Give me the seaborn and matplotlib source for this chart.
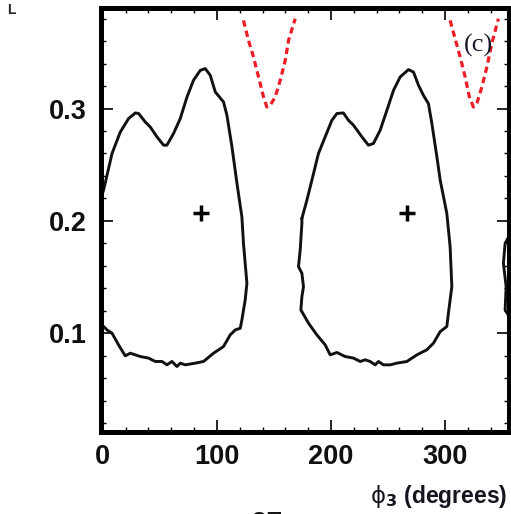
import numpy as np
import pandas as pd
import matplotlib
matplotlib.use("Agg")
import matplotlib.pyplot as plt
from matplotlib.ticker import MultipleLocator
import seaborn as sns

# ---- data ----
c1_phi = [-2.2, 0.7, 8.1, 15.3, 22.6, 28.5, 31.4, 37.2, 41.6, 47.5, 53.3, 56.2, 62.0, 67.9, 73.8,
          79.5, 85.4, 89.8, 94.2, 98.6, 105.8, 108.8, 113.2, 117.6, 121.9, 123.3, 126.3, 124.8,
          121.9, 120.5, 116.1, 111.7, 105.8, 97.1, 88.3, 81.0, 72.3, 67.9, 65.0, 60.6, 56.2, 51.9,
          46.0, 40.1, 32.9, 24.1, 19.7, 13.8, 8.1, 3.7, -0.7, -3.1]
c1_r = [0.2185, 0.2274, 0.260, 0.279, 0.2911, 0.2961, 0.2956, 0.2881, 0.2836, 0.2748, 0.2674,
        0.2674, 0.2778, 0.2911, 0.3103, 0.3252, 0.3340, 0.3356, 0.3296, 0.3148, 0.3059, 0.2940,
        0.2659, 0.2333, 0.2036, 0.1800, 0.1444, 0.1296, 0.1118, 0.1044, 0.1029, 0.0985, 0.0881,
        0.0822, 0.0748, 0.0733, 0.0718, 0.0733, 0.0703, 0.0748, 0.0718, 0.0748, 0.0748, 0.0778,
        0.0792, 0.0822, 0.0798, 0.0896, 0.1000, 0.1029, 0.1074, 0.1100]

c2_phi = [174.5, 178.9, 184.7, 189.0, 194.9, 200.8, 205.2, 210.9, 215.3, 219.7, 227.1, 232.8,
          237.2, 243.1, 249.0, 254.8, 260.6, 267.9, 272.3, 276.7, 281.0, 285.4, 288.4, 292.8,
          295.7, 301.5, 304.4, 305.9, 302.9, 301.5, 295.7, 289.8, 284.0, 275.3, 266.5, 257.7,
          251.9, 246.0, 241.6, 238.7, 234.3, 230.0, 225.6, 219.7, 212.4, 205.2, 199.3, 194.9,
          187.6, 180.3, 173.6, 174.5, 175.9, 174.5, 171.5, 173.0, 174.5, 174.5]
c2_r = [0.2022, 0.2185, 0.2422, 0.2600, 0.2748, 0.2896, 0.2956, 0.2961, 0.2896, 0.2852, 0.2748,
        0.2674, 0.2689, 0.2807, 0.2985, 0.3163, 0.3281, 0.3347, 0.3325, 0.3207, 0.3118, 0.3044,
        0.2867, 0.2570, 0.2363, 0.2067, 0.1770, 0.1414, 0.1178, 0.1059, 0.1014, 0.0911, 0.0852,
        0.0807, 0.0748, 0.0733, 0.0718, 0.0718, 0.0748, 0.0718, 0.0748, 0.0763, 0.0748, 0.0778,
        0.0792, 0.0828, 0.0807, 0.0896, 0.0985, 0.1089, 0.1207, 0.1325, 0.1414, 0.1533, 0.1592,
        0.1740, 0.1978, 0.2022]

c3_phi = [358.0, 352.6, 351.1, 353.5, 352.6, 358.0]
c3_r = [0.190, 0.180, 0.1622, 0.1415, 0.1207, 0.112]

v1_phi = [123.3, 127.7, 132.1, 136.5, 140.9, 143.8, 146.7, 151.1, 155.5, 159.9, 162.8, 168.6]
v1_r = [0.3785, 0.3607, 0.3459, 0.3281, 0.3103, 0.3014, 0.3029, 0.3103, 0.3252, 0.3429, 0.3607, 0.3800]
v2_phi = [304.4, 308.8, 313.2, 317.6, 321.3, 324.8, 327.8, 332.2, 336.6, 340.9, 346.7]
v2_r = [0.3785, 0.3622, 0.3459, 0.3281, 0.3103, 0.3014, 0.3044, 0.3192, 0.3370, 0.3578, 0.3800]

best_phi = [86.3, 266.5]
best_r = [0.2067, 0.2067]

x_ticks = [0, 100, 200, 300]
y_ticks = [0.1, 0.2, 0.3]

# ---- figure ----
sns.set_theme(style="ticks")
plt.rcParams['font.family'] = ['Liberation Sans', 'DejaVu Sans']

W, H = 511, 514
fig = plt.figure(figsize=(W / 100, H / 100), dpi=100)
L, R, T, B = 100.5, 509.0, 7.5, 432.0
ax = fig.add_axes([L / W, 1 - B / H, (R - L) / W, (B - T) / H])

black = "#111111"
red = "#ee1c24"

def line(phi, r, **kw):
    df = pd.DataFrame({"phi": phi, "r": r})
    sns.lineplot(data=df, x="phi", y="r", sort=False, estimator=None, ax=ax, **kw)

for p, r in [(c1_phi, c1_r), (c2_phi, c2_r), (c3_phi, c3_r)]:
    line(p, r, color=black, linewidth=2.1, solid_joinstyle="round", solid_capstyle="round")
for p, r in [(v1_phi, v1_r), (v2_phi, v2_r)]:
    line(p, r, color=red, linewidth=2.3, dashes=(2.0, 1.3))

sns.scatterplot(x=best_phi, y=best_r, marker="+", s=120, color="black", linewidth=2.5, ax=ax, zorder=5)

ax.set_xlim(-2, 356)
ax.set_ylim(0.012, 0.39)
ax.set_xticks(x_ticks)
ax.set_yticks(y_ticks)
ax.set_xticklabels([str(v) for v in x_ticks])
ax.set_yticklabels([f"{v:.1f}" for v in y_ticks])
ax.xaxis.set_minor_locator(MultipleLocator(20))
ax.yaxis.set_minor_locator(MultipleLocator(0.02))

for s in ax.spines.values():
    s.set_linewidth(3.6)
    s.set_color("black")
    s.set_visible(True)

ax.tick_params(which="both", direction="in", top=True, right=True, color="black")
ax.tick_params(which="major", length=8.5, width=1.2)
ax.tick_params(which="minor", length=3.5, width=1.0)
ax.tick_params(axis="x", which="major", pad=9, labelsize=19.5)
ax.tick_params(axis="y", which="major", pad=10, labelsize=19.5)
for lab in ax.get_xticklabels() + ax.get_yticklabels():
    lab.set_fontweight("bold")
    lab.set_color("#101010")

ax.set_ylabel("")
ax.set_xlabel(r"$\mathrm{\phi}_\mathbf{3}$ (degrees)", fontsize=16.5, fontweight="bold",
              ha="right", va="baseline", color="#151520")
ax.xaxis.set_label_coords((507 - L) / (R - L), (B - 503) / (B - T))

ax.text((478 - L) / (R - L), (B - 45) / (B - T), "(c)", transform=ax.transAxes,
        fontsize=19, family="Liberation Serif", ha="center", va="center", color="#1a1a2e")

fig.text(7 / W, 1 - 14 / H, "L", fontsize=10, fontweight="bold", ha="left", va="baseline")
fig.text(250 / W, 1 - 510 / H, "27", fontsize=21, ha="left", va="top", color="#111111")

ax.grid(False)
fig.savefig("out.png", dpi=100)
